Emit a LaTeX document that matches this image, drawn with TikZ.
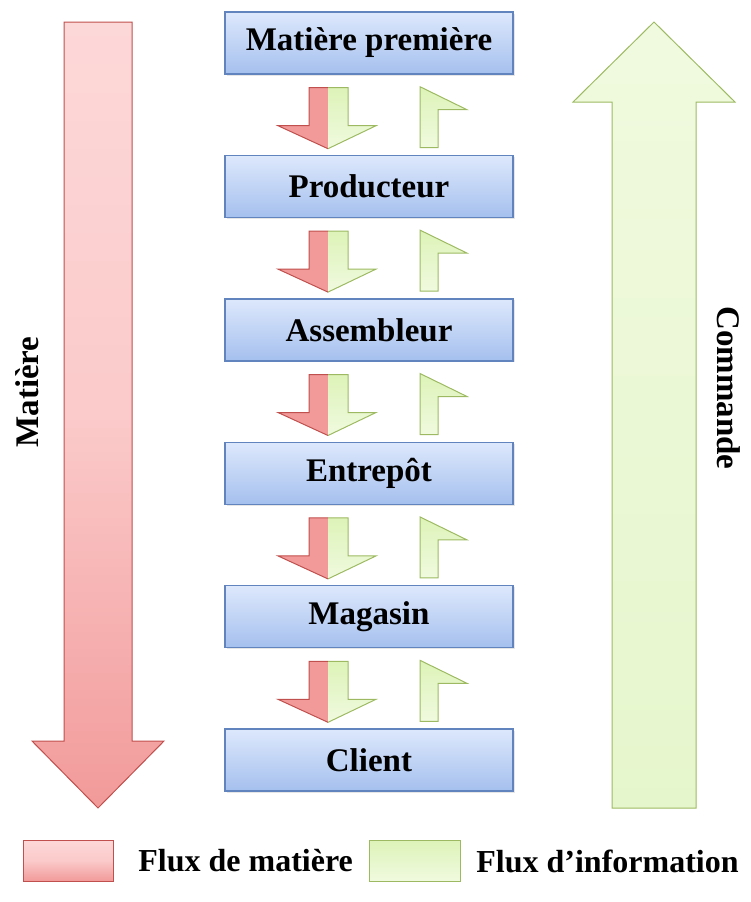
\documentclass[tikz,border=0pt]{standalone}
\usepackage{fontspec}
\setmainfont{Liberation Serif}
\usetikzlibrary{calc,positioning,shadows}

\definecolor{boxtop}{HTML}{DDE8FC}
\definecolor{boxbot}{HTML}{A5C0EE}
\definecolor{boxline}{HTML}{6184BF}
\definecolor{redtop}{HTML}{FDD8D8}
\definecolor{redmid}{HTML}{FBCACA}
\definecolor{redfill}{HTML}{F29A9A}
\definecolor{redline}{HTML}{C0504D}
\definecolor{grntop}{HTML}{F0FADF}
\definecolor{grnfill}{HTML}{DDF3B8}
\definecolor{grnbig}{HTML}{E6F6CC}
\definecolor{grnline}{HTML}{9DBA62}

\tikzset{
  stage/.style={draw=boxline,line width=0.7pt,top color=boxtop,bottom color=boxbot,
    minimum width=144pt,minimum height=31pt,inner sep=0pt,
    font=\bfseries\fontsize{16.5}{19}\selectfont,
    drop shadow={opacity=0.2,shadow xshift=0.8pt,shadow yshift=-0.8pt}},
  lbl/.style={font=\bfseries\fontsize{16.5}{19}\selectfont,inner sep=0pt},
  legtext/.style={font=\bfseries\fontsize{16}{19}\selectfont,inner sep=0pt,anchor=west},
  matflow/.style={top color=redtop,bottom color=redfill,middle color=redmid,draw=redline,line width=0.5pt},
  infoflow/.style={top color=grnfill,bottom color=grntop,draw=grnline,line width=0.5pt}
}

\begin{document}
\begin{tikzpicture}[x=0.5pt,y=-0.5pt,line join=miter]
  \useasboundingbox (0,0) rectangle (751,902);

  % big arrows
  \draw[matflow] (64,22) -- (132,22) -- (132,741) -- (164,741) -- (98,808)
     -- (32,741) -- (64,741) -- cycle;
  \draw[draw=grnline,line width=0.5pt,top color=grntop,bottom color=grnbig]
     (654,22) -- (735,102) -- (696,102) -- (696,808) -- (612,808)
     -- (612,102) -- (573,102) -- cycle;
  \node[lbl,rotate=90] (matlab) at (27,392) {Matière};
  \node[lbl,rotate=-90] (cmdlab) at (729,388) {Commande};

  % chain
  \node[stage] (mp) at (369,43) {Matière première};
  \node[stage,below=40pt of mp] (prod) {Producteur};
  \node[stage,below=40pt of prod] (assem) {Assembleur};
  \node[stage,below=40pt of assem] (entre) {Entrepôt};
  \node[stage,below=40pt of entre] (mag) {Magasin};
  \node[stage,below=40pt of mag] (client) {Client};

  \foreach \a in {mp,prod,assem,entre,mag}{
    \fill[redfill] ($(\a.south)+(-41,13)$) -- ($(\a.south)+(-60,13)$) -- ($(\a.south)+(-60,51)$)
       -- ($(\a.south)+(-91,51)$) -- ($(\a.south)+(-41,74)$) -- cycle;
    \shade[top color=grnfill,bottom color=grntop] ($(\a.south)+(-41,13)$) -- ($(\a.south)+(-21,13)$)
       -- ($(\a.south)+(-21,51)$) -- ($(\a.south)+(7,51)$) -- ($(\a.south)+(-41,74)$) -- cycle;
    \draw[redline,line width=0.5pt] ($(\a.south)+(-41,13)$) -- ($(\a.south)+(-60,13)$)
       -- ($(\a.south)+(-60,51)$) -- ($(\a.south)+(-91,51)$) -- ($(\a.south)+(-41,74)$);
    \draw[grnline,line width=0.5pt] ($(\a.south)+(-41,13)$) -- ($(\a.south)+(-21,13)$)
       -- ($(\a.south)+(-21,51)$) -- ($(\a.south)+(7,51)$) -- ($(\a.south)+(-41,74)$);
    \draw[infoflow] ($(\a.south)+(51,12)$) -- ($(\a.south)+(98,35)$) -- ($(\a.south)+(69,35)$)
       -- ($(\a.south)+(69,73)$) -- ($(\a.south)+(51,73)$) -- cycle;
  }

  % legend
  \draw[matflow] (23,840) rectangle (113,881);
  \node[legtext] (matleg) at (138,861) {Flux de matière};
  \draw[infoflow] (369,840) rectangle (460,881);
  \node[legtext] (infoleg) at (476,861) {Flux d’information};
\end{tikzpicture}
\end{document}
